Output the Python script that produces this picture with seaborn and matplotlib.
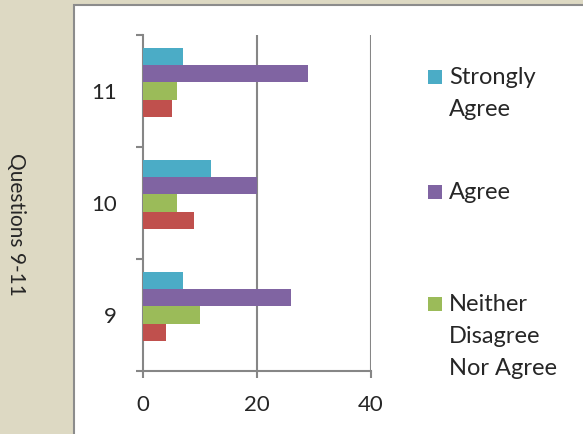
import matplotlib
matplotlib.use("Agg")
import matplotlib.pyplot as plt
from matplotlib.patches import Rectangle
import seaborn as sns
import pandas as pd

# ---- data ----
questions = ["11", "10", "9"]
series = ["Strongly Agree", "Agree", "Neither Disagree Nor Agree", "Disagree", "Strongly Disagree"]
strongly_agree = [7, 12, 7]
agree = [29, 20, 26]
neither = [6, 6, 10]
disagree = [5, 9, 4]
strongly_disagree = [0, 0, 0]
legend_labels = ["Strongly\nAgree", "Agree", "Neither\nDisagree\nNor Agree"]
x_ticks = [0, 20, 40]
y_label = "Questions 9-11"

colors = ["#4BACC6", "#8064A2", "#9BBB59", "#C0504D", "#F79646"]

rows = []
for s, vals in zip(series, [strongly_agree, agree, neither, disagree, strongly_disagree]):
    for q, v in zip(questions, vals):
        rows.append({"Question": q, "Series": s, "Value": v})
df = pd.DataFrame(rows)

sns.set_style("white")
plt.rcParams["font.family"] = ["Lato", "DejaVu Sans"]

W, H = 583, 434
fig = plt.figure(figsize=(W / 100, H / 100), dpi=100)
fig.patch.set_facecolor("#DDD9C3")

# white chart area
fig.patches.append(Rectangle((74 / W, -0.01), 1.0, (H - 5) / H + 0.01, transform=fig.transFigure,
                             facecolor="white", edgecolor="#8C8C8C", linewidth=1.5, zorder=-1))

ax = fig.add_axes([143 / W, 1 - 371 / H, (371 - 143) / W, (371 - 35) / H])
ax.set_facecolor("none")
ax.set_zorder(2)

sns.barplot(data=df, y="Question", x="Value", hue="Series", order=questions,
            hue_order=series, palette=colors, orient="h", width=0.77,
            linewidth=0, saturation=1, ax=ax, legend=False, zorder=3)

ax.set_xlim(0, 40)
ax.set_ylim(2.5, -0.5)
grid_c = "#868686"
for s in ["top", "right"]:
    ax.spines[s].set_visible(False)
for s in ["left", "bottom"]:
    ax.spines[s].set_color(grid_c)
    ax.spines[s].set_linewidth(1.5)
ax.set_xticks(x_ticks)
ax.set_xticklabels([str(t) for t in x_ticks])
for t in x_ticks[1:]:
    ax.axvline(t, color=grid_c, linewidth=1.5, zorder=1)
ax.tick_params(axis="x", direction="out", length=5, width=1.5, color=grid_c,
               labelsize=16, pad=12, bottom=True)
ax.set_yticks([-0.5, 0.5, 1.5, 2.5])
ax.set_yticklabels([])
ax.set_yticks([0, 1, 2], minor=True)
ax.set_yticklabels(questions, minor=True)
ax.tick_params(axis="y", which="major", direction="out", length=5, width=1.5, color=grid_c, left=True)
ax.tick_params(axis="y", which="minor", length=0, labelsize=16, pad=19)
ax.set_xlabel("")
ax.set_ylabel("")

fig.text(16 / W, 1 - 224 / H, y_label, rotation=270, ha="center", va="center", fontsize=15)

# legend (only the visible entries)
first_baselines = [84, 199, 311]
line_step = 32
for lab, col, yb in zip(legend_labels, colors, first_baselines):
    sq_c = yb - 7
    fig.patches.append(Rectangle((428 / W, 1 - (sq_c + 7) / H), 14 / W, 14 / H,
                                 transform=fig.transFigure, facecolor=col, edgecolor="none"))
    for i, line in enumerate(lab.split("\n")):
        fig.text(449 / W, 1 - (yb + i * line_step) / H, line, ha="left", va="baseline", fontsize=17)

fig.savefig("out.png", dpi=100, facecolor=fig.get_facecolor())
